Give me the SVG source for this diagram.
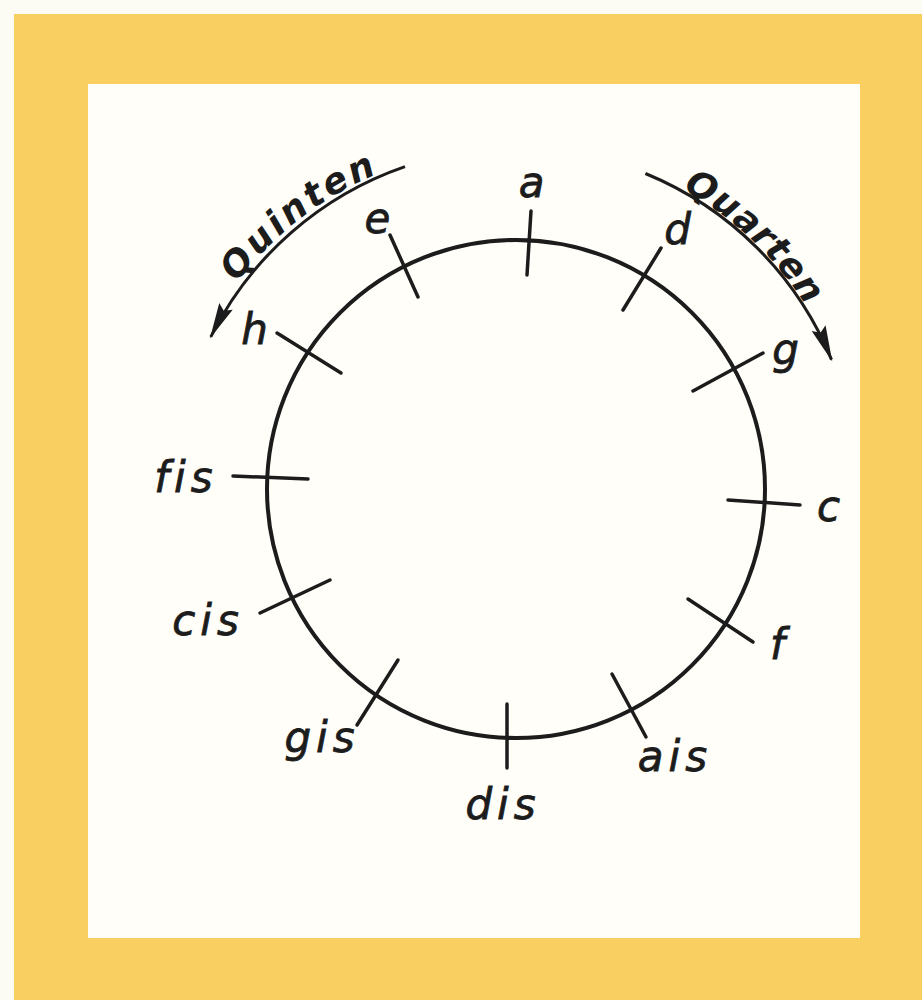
<svg xmlns="http://www.w3.org/2000/svg" width="922" height="1000" viewBox="0 0 922 1000">
  <defs>
    <style>
      .lbl { font-family: "DejaVu Sans", "Liberation Sans", sans-serif; font-style: italic; font-size: 42px; letter-spacing: 5px; fill: #1c1c1c; stroke: #1c1c1c; stroke-width: 0.8; text-anchor: middle; }
      .arcl { font-family: "DejaVu Sans", "Liberation Sans", sans-serif; font-weight: bold; font-style: italic; font-size: 36px; fill: #1c1c1c; }
      .tick { stroke: #1c1c1c; stroke-width: 3.5; stroke-linecap: round; fill: none; }
      .arc { stroke: #1c1c1c; stroke-width: 3; fill: none; marker-end: url(#arr); }
    </style>
    <marker id="arr" markerUnits="userSpaceOnUse" markerWidth="44" markerHeight="22" viewBox="-40 -11 44 22" refX="0" refY="0" orient="auto">
      <path d="M2,0 L-34,-7.5 L-29,0 L-34,7.5 Z" fill="#1c1c1c"/>
    </marker>
    <path id="pQuinten" d="M236.8,282.8 A343,343 0 0 1 456.4,151.2"/>
    <path id="pQuarten" d="M682.3,189.0 A343,343 0 0 1 847.3,400.2"/>
  </defs>

  <!-- background -->
  <rect x="0" y="0" width="922" height="1000" fill="#fcfbf4"/>
  <rect x="14" y="14" width="908" height="986" fill="#f8cf60"/>
  <rect x="88" y="84" width="772" height="854" fill="#fffef8"/>

  <!-- circle -->
  <g id="circle">
    <circle cx="516" cy="489" r="249" fill="none" stroke="#1c1c1c" stroke-width="4"/>
  </g>

  <!-- notes -->
  <g id="note-a"><line class="tick" x1="531" y1="211" x2="527" y2="275"/><text class="lbl" x="534" y="197">a</text></g>
  <g id="note-d"><line class="tick" x1="661" y1="248" x2="623" y2="310"/><text class="lbl" x="680" y="244">d</text></g>
  <g id="note-g"><line class="tick" x1="763" y1="353" x2="693" y2="391"/><text class="lbl" x="788" y="364">g</text></g>
  <g id="note-c"><line class="tick" x1="728" y1="500" x2="800" y2="505"/><text class="lbl" x="831" y="521">c</text></g>
  <g id="note-f"><line class="tick" x1="688" y1="599" x2="753" y2="642"/><text class="lbl" x="780" y="659">f</text></g>
  <g id="note-ais"><line class="tick" x1="612" y1="674" x2="646" y2="737"/><text class="lbl" x="675" y="771">ais</text></g>
  <g id="note-dis"><line class="tick" x1="507" y1="704" x2="507" y2="768"/><text class="lbl" x="503" y="819">dis</text></g>
  <g id="note-gis"><line class="tick" x1="398" y1="660" x2="357" y2="725"/><text class="lbl" x="322" y="752">gis</text></g>
  <g id="note-cis"><line class="tick" x1="260" y1="613" x2="330" y2="580"/><text class="lbl" x="208" y="635">cis</text></g>
  <g id="note-fis"><line class="tick" x1="233" y1="476" x2="308" y2="479"/><text class="lbl" x="186" y="492">fis</text></g>
  <g id="note-h"><line class="tick" x1="277" y1="333" x2="341" y2="373"/><text class="lbl" x="257" y="344">h</text></g>
  <g id="note-e"><line class="tick" x1="390" y1="235" x2="418" y2="297"/><text class="lbl" x="380" y="233">e</text></g>

  <!-- connectors -->
  <g id="connectors">
    <path id="quinten-arrow" class="arc" d="M405,166.6 A341,341 0 0 0 210.8,336.8"/>
    <path id="quarten-arrow" class="arc" d="M645.4,173.5 A341,341 0 0 1 831.5,359.6"/>
  </g>

  <g id="label-quinten"><text class="arcl" letter-spacing="3"><textPath href="#pQuinten">Quinten</textPath></text></g>
  <g id="label-quarten"><text class="arcl" letter-spacing="1"><textPath href="#pQuarten">Quarten</textPath></text></g>
</svg>
